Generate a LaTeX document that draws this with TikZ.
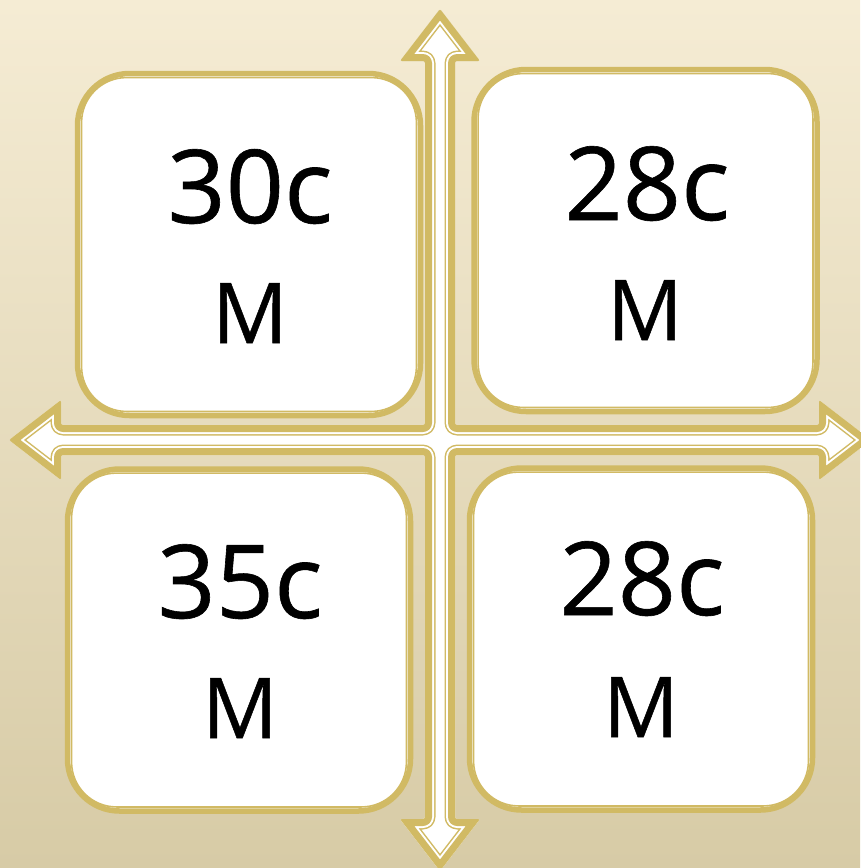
\documentclass[tikz,border=0pt]{standalone}
\usepackage{fontspec}
\setmainfont[FakeBold=0.6]{Open Sans}
\definecolor{gold}{RGB}{209,186,100}
\definecolor{bgtop}{RGB}{245,236,212}
\definecolor{bgmid}{RGB}{236,230,211}
\definecolor{bgbot}{RGB}{215,203,166}
\tikzset{
  boxouter/.style={draw=gold, line width=5.5pt, fill=white, rounded corners=52pt,
    minimum width=343pt, minimum height=342pt, inner sep=0pt},
  boxinner/.style={draw=gold, line width=1.6pt, rounded corners=45pt},
  bignum/.style={font=\fontsize{102}{102}\selectfont, anchor=base, inner sep=0pt},
  bigm/.style={font=\fontsize{84}{84}\selectfont, anchor=base, inner sep=0pt},
}
\def\crosspath{(425,61) -- (400,61) -- (440,9) -- (480,61) -- (455,61) -- (455,425) -- (819,425) -- (819,400) -- (871,440) -- (819,480) -- (819,455) -- (455,455) -- (455,819) -- (480,819) -- (440,871) -- (400,819) -- (425,819) -- (425,455) -- (61,455) -- (61,480) -- (9,440) -- (61,400) -- (61,425) -- (425,425) -- cycle}
\begin{document}
\begin{tikzpicture}[x=1pt,y=-1pt]
\useasboundingbox (0,0) rectangle (860,868);
\shade[top color=bgtop, middle color=bgmid, bottom color=bgbot] (0,0) rectangle (860,868);
% cross arrow
\begin{scope}[rounded corners=2pt, line join=round]
  \clip \crosspath;
  \fill[white] \crosspath;
  \draw[gold, line width=21pt] \crosspath;
  \draw[white, line width=18pt] \crosspath;
  \draw[gold, line width=14pt] \crosspath;
\end{scope}
% boxes
\node[boxouter] (tl) at (249,244.5) {};
\node[boxouter] (tr) at (645.5,240.5) {};
\node[boxouter] (bl) at (239,640) {};
\node[boxouter] (br) at (641,639) {};
\foreach \b in {tl,tr,bl,br}{
  \draw[boxinner] ([shift={(6.8,6.8)}]\b.north west) rectangle ([shift={(-6.8,-6.8)}]\b.south east);
}
% texts
\node[bignum] (t1) at (250,223) {30c};
\node[bigm] (m1) at (250,343) {M};
\node[bignum] (t2) at (647,220) {28c};
\node[bigm] (m2) at (645,340) {M};
\node[bignum] (t3) at (240,618) {35c};
\node[bigm] (m3) at (240,738) {M};
\node[bignum] (t4) at (642,615) {28c};
\node[bigm] (m4) at (641,737) {M};
\end{tikzpicture}
\end{document}
